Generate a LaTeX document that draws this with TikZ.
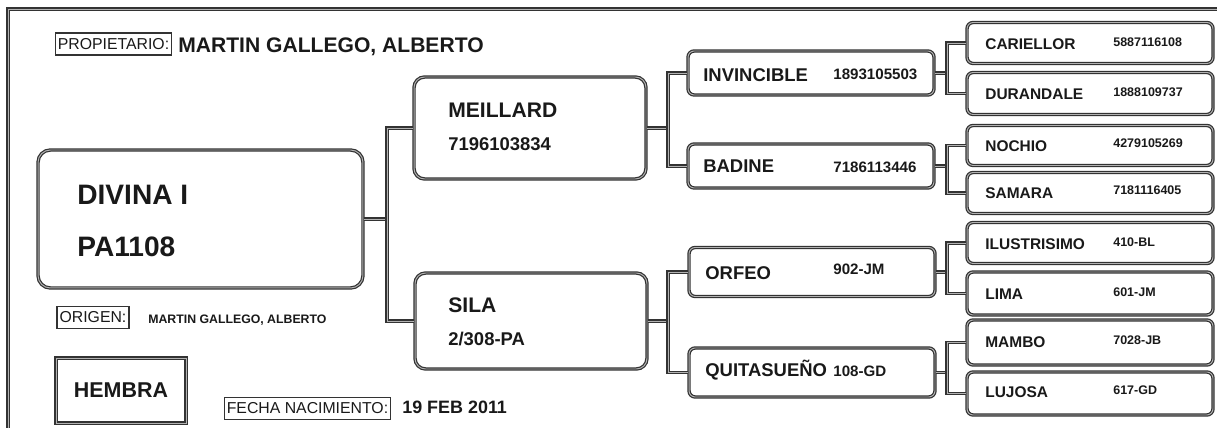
\documentclass[tikz,border=0pt]{standalone}
\usepackage{fontspec}
\setmainfont{Liberation Sans}
\usetikzlibrary{calc}

\begin{document}
\begin{tikzpicture}[x=0.02cm, y=-0.02cm,
    box/.style={draw=black!80, double=black!30, double distance=0.55pt, line width=0.7pt, inner sep=0pt},
    link/.style={draw=black!80, double=black!30, double distance=0.55pt, line width=0.7pt},
    tag/.style={draw=black!80, line width=0.6pt, inner xsep=1.5pt, inner ysep=0pt, minimum height=12.5pt, text=black!90, font=\fontsize{9}{10}\selectfont},
    txt/.style={anchor=base west, inner sep=0pt, text=black!90},
    namebig/.style={txt, font=\bfseries\fontsize{16}{18}\selectfont},
    namemid/.style={txt, font=\bfseries\fontsize{12}{14}\selectfont},
    nummid/.style={txt, font=\bfseries\fontsize{10.5}{12}\selectfont},
    namesm/.style={txt, font=\bfseries\fontsize{10.5}{12}\selectfont},
    numsm/.style={txt, font=\bfseries\fontsize{8.6}{10}\selectfont},
    namexs/.style={txt, font=\bfseries\fontsize{8.8}{10}\selectfont},
    numxs/.style={txt, font=\bfseries\fontsize{7.1}{8}\selectfont}]

    \useasboundingbox (0,0) rectangle (1217,428);

    % page frame (cut at right and bottom)
    \draw[link, line width=0.9pt] (8,428) -- (8,9) -- (1217,9);

    % owner
    \node[tag] (propietario) at (113.5,44) {PROPIETARIO:};
    \node[txt, font=\bfseries\fontsize{12}{14}\selectfont] (owner) at (178,53) {MARTIN GALLEGO, ALBERTO};

    % the animal itself
    \node[box, rounded corners=7pt, minimum width=6.5cm, minimum height=2.76cm] (divina) at (200.5,219) {};
    \node[namebig] (divina-n) at (77,205) {DIVINA I};
    \node[namebig] (divina-c) at (77,257) {PA1108};

    \node[tag] (origen) at (93,317.5) {ORIGEN:};
    \node[txt, font=\bfseries\fontsize{7}{8}\selectfont] (breeder) at (148,324) {MARTIN GALLEGO, ALBERTO};

    \node[box, minimum width=2.6cm, minimum height=1.3cm, font=\bfseries\fontsize{12.2}{14}\selectfont, text=black!90] (sexo) at (121,390.5) {HEMBRA};

    \node[tag] (fecha) at (307.5,408.5) {FECHA NACIMIENTO:};
    \node[txt, font=\bfseries\fontsize{10.2}{12}\selectfont] (nacido) at (402,414) {19 FEB 2011};

    % parents
    \node[box, rounded corners=6pt, minimum width=4.64cm, minimum height=2.04cm] (meillard) at (530,128) {};
    \node[namemid] (meillard-n) at (448,118) {MEILLARD};
    \node[nummid] (meillard-c) at (448,151) {7196103834};

    \node[box, rounded corners=6pt, minimum width=4.64cm, minimum height=1.92cm] (sila) at (531,321) {};
    \node[namemid] (sila-n) at (448,313) {SILA};
    \node[nummid] (sila-c) at (448,346) {2/308-PA};

    % grandparents
    \node[box, rounded corners=3.5pt, minimum width=4.92cm, minimum height=0.88cm] (invincible) at (811,73) {};
    \node[namesm] (invincible-n) at (703,82) {INVINCIBLE};
    \node[numsm] (invincible-c) at (833,80) {1893105503};

    \node[box, rounded corners=3.5pt, minimum width=4.92cm, minimum height=0.88cm] (badine) at (811,166) {};
    \node[namesm] (badine-n) at (703,173) {BADINE};
    \node[numsm] (badine-c) at (833,173) {7186113446};

    \node[box, rounded corners=3.5pt, minimum width=4.92cm, minimum height=0.98cm] (orfeo) at (812,272) {};
    \node[namesm] (orfeo-n) at (705,280) {ORFEO};
    \node[numsm] (orfeo-c) at (833,275) {902-JM};

    \node[box, rounded corners=3.5pt, minimum width=4.92cm, minimum height=0.98cm] (quitasueno) at (812,372.5) {};
    \node[namesm] (quitasueno-n) at (705,377) {QUITASUEÑO};
    \node[numsm] (quitasueno-c) at (833,377) {108-GD};

    % great-grandparents
    \node[box, rounded corners=3.5pt, minimum width=4.92cm, minimum height=0.82cm] (cariellor) at (1090,43) {};
    \node[namexs] (cariellor-n) at (985,50) {CARIELLOR};
    \node[numxs] (cariellor-c) at (1113,47) {5887116108};

    \node[box, rounded corners=3.5pt, minimum width=4.92cm, minimum height=0.84cm] (durandale) at (1090,93.5) {};
    \node[namexs] (durandale-n) at (985,100) {DURANDALE};
    \node[numxs] (durandale-c) at (1113,97) {1888109737};

    \node[box, rounded corners=3.5pt, minimum width=4.92cm, minimum height=0.8cm] (nochio) at (1090,145.5) {};
    \node[namexs] (nochio-n) at (985,152) {NOCHIO};
    \node[numxs] (nochio-c) at (1113,148) {4279105269};

    \node[box, rounded corners=3.5pt, minimum width=4.92cm, minimum height=0.82cm] (samara) at (1090,193) {};
    \node[namexs] (samara-n) at (985,199) {SAMARA};
    \node[numxs] (samara-c) at (1113,195) {7181116405};

    \node[box, rounded corners=3.5pt, minimum width=4.92cm, minimum height=0.82cm] (ilustrisimo) at (1090,243) {};
    \node[namexs] (ilustrisimo-n) at (985,250) {ILUSTRISIMO};
    \node[numxs] (ilustrisimo-c) at (1113,247) {410-BL};

    \node[box, rounded corners=3.5pt, minimum width=4.92cm, minimum height=0.86cm] (lima) at (1090,293.5) {};
    \node[namexs] (lima-n) at (985,300) {LIMA};
    \node[numxs] (lima-c) at (1113,297) {601-JM};

    \node[box, rounded corners=3.5pt, minimum width=4.92cm, minimum height=0.9cm] (mambo) at (1090,342.5) {};
    \node[namexs] (mambo-n) at (985,348) {MAMBO};
    \node[numxs] (mambo-c) at (1113,345) {7028-JB};

    \node[box, rounded corners=3.5pt, minimum width=4.92cm, minimum height=0.86cm] (lujosa) at (1090,393.5) {};
    \node[namexs] (lujosa-n) at (985,398) {LUJOSA};
    \node[numxs] (lujosa-c) at (1113,395) {617-GD};

    % forks
    \coordinate (f1) at (387,0);
    \coordinate (f2) at (668,0);
    \coordinate (f3) at (947,0);

    \draw[link] (divina.east) -- (divina.east -| f1);
    \draw[link] (meillard.west) -- (meillard.west -| f1) -- (sila.west -| f1) -- (sila.west);

    \draw[link] (meillard.east) -- (meillard.east -| f2);
    \draw[link] (invincible.west) -- (invincible.west -| f2) -- (badine.west -| f2) -- (badine.west);
    \draw[link] (sila.east) -- (sila.east -| f2);
    \draw[link] (orfeo.west) -- (orfeo.west -| f2) -- (quitasueno.west -| f2) -- (quitasueno.west);

    \draw[link] (invincible.east) -- (invincible.east -| f3);
    \draw[link] (cariellor.west) -- (cariellor.west -| f3) -- (durandale.west -| f3) -- (durandale.west);
    \draw[link] (badine.east) -- (badine.east -| f3);
    \draw[link] (nochio.west) -- (nochio.west -| f3) -- (samara.west -| f3) -- (samara.west);
    \draw[link] (orfeo.east) -- (orfeo.east -| f3);
    \draw[link] (ilustrisimo.west) -- (ilustrisimo.west -| f3) -- (lima.west -| f3) -- (lima.west);
    \draw[link] (quitasueno.east) -- (quitasueno.east -| f3);
    \draw[link] (mambo.west) -- (mambo.west -| f3) -- (lujosa.west -| f3) -- (lujosa.west);

\end{tikzpicture}
\end{document}
